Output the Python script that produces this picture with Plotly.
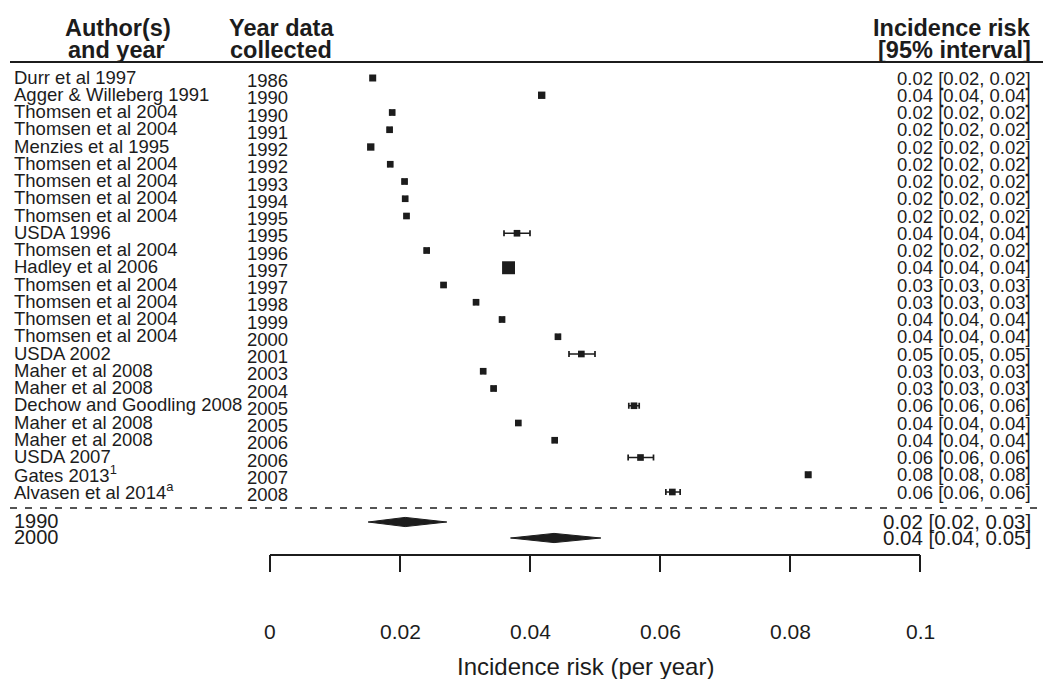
import plotly.graph_objects as go

# ---- study data -------------------------------------------------------------
authors = [
    "Durr et al 1997", "Agger & Willeberg 1991", "Thomsen et al 2004",
    "Thomsen et al 2004", "Menzies et al 1995", "Thomsen et al 2004",
    "Thomsen et al 2004", "Thomsen et al 2004", "Thomsen et al 2004",
    "USDA 1996", "Thomsen et al 2004", "Hadley et al 2006",
    "Thomsen et al 2004", "Thomsen et al 2004", "Thomsen et al 2004",
    "Thomsen et al 2004", "USDA 2002", "Maher et al 2008", "Maher et al 2008",
    "Dechow and Goodling 2008", "Maher et al 2008", "Maher et al 2008",
    "USDA 2007", "Gates 2013<sup>1</sup>", "Alvasen et al 2014<sup>a</sup>",
]
years = [
    "1986", "1990", "1990", "1991", "1992", "1992", "1993", "1994", "1995",
    "1995", "1996", "1997", "1997", "1998", "1999", "2000", "2001", "2003",
    "2004", "2005", "2005", "2006", "2006", "2007", "2008",
]
est = [
    0.0158, 0.0418, 0.0188, 0.0184, 0.0155, 0.0185, 0.0207, 0.0208, 0.0210,
    0.0380, 0.0241, 0.0367, 0.0267, 0.0317, 0.0357, 0.0443, 0.0479, 0.0328,
    0.0344, 0.0560, 0.0382, 0.0438, 0.0570, 0.0828, 0.0619,
]
lower = [
    0.0155, 0.0415, 0.0185, 0.0181, 0.0152, 0.0182, 0.0204, 0.0205, 0.0207,
    0.0360, 0.0238, 0.0365, 0.0264, 0.0314, 0.0354, 0.0440, 0.0460, 0.0325,
    0.0341, 0.0552, 0.0379, 0.0435, 0.0551, 0.0825, 0.0609,
]
upper = [
    0.0161, 0.0421, 0.0191, 0.0187, 0.0158, 0.0188, 0.0210, 0.0211, 0.0213,
    0.0400, 0.0244, 0.0369, 0.0270, 0.0320, 0.0360, 0.0446, 0.0500, 0.0331,
    0.0347, 0.0568, 0.0385, 0.0441, 0.0590, 0.0831, 0.0631,
]
# relative study weight (drives the size of each square)
weight = [
    1.0, 1.05, 0.95, 0.95, 1.05, 0.95, 0.95, 0.95, 0.95,
    0.95, 0.95, 1.85, 0.95, 0.95, 0.95, 0.95, 0.95, 0.95,
    0.95, 0.95, 0.95, 0.95, 0.95, 1.0, 0.95,
]

summary_labels = ["1990", "2000"]
summary_est = [0.0208, 0.0437]
summary_lower = [0.0151, 0.0370]
summary_upper = [0.0272, 0.0509]

tick_values = [0, 0.02, 0.04, 0.06, 0.08, 0.1]
tick_labels = ["0", "0.02", "0.04", "0.06", "0.08", "0.1"]

# ---- page geometry ----------------------------------------------------------
W, H = 1043, 679
PX0, PX_PER_UNIT = 270, 6500.0       # x = 0 sits at 270 px, 0.1 at 920 px
ROW0_PX, ROW_PX = 78, 17.25          # first study row and row pitch


def xd(px):
    return (px - PX0) / PX_PER_UNIT


def yd(px):
    return 1 + (px - ROW0_PX) / ROW_PX


INK = "#1c1c1c"
FONT = "Liberation Sans, Arial, sans-serif"
BODY = 18.5
HEAD = 23.5
POOLED = 20

rows = list(range(1, len(est) + 1))
dash_row = yd(508)
summary_rows = [yd(522), yd(538)]
axis_row = yd(555)
tick_end_row = yd(572)
ticklab_row = yd(631)
title_row = yd(666)


def fmt(v):
    return f"{v:.2f}"


fig = go.Figure()

# header rule and dashed separator
fig.add_trace(go.Scatter(
    x=[xd(10), xd(W)], y=[yd(62), yd(62)], mode="lines",
    line=dict(color=INK, width=2), hoverinfo="skip", showlegend=False))
fig.add_trace(go.Scatter(
    x=[xd(10), xd(W)], y=[dash_row, dash_row], mode="lines",
    line=dict(color=INK, width=1.6, dash="7px,8px"),
    hoverinfo="skip", showlegend=False))

# study estimates with confidence intervals
fig.add_trace(go.Scatter(
    x=est, y=rows, mode="markers",
    marker=dict(symbol="square", size=[7 * w for w in weight],
                color=INK, opacity=1, line=dict(width=0)),
    error_x=dict(type="data", symmetric=False,
                 array=[u - e for u, e in zip(upper, est)],
                 arrayminus=[e - l for e, l in zip(est, lower)],
                 thickness=1.7, width=3, color=INK),
    hoverinfo="skip", showlegend=False))

# pooled diamonds
half_h = 4.6 / ROW_PX
for r, e, lo, hi in zip(summary_rows, summary_est, summary_lower, summary_upper):
    fig.add_trace(go.Scatter(
        x=[lo, e, hi, e, lo], y=[r, r - half_h, r, r + half_h, r],
        mode="lines", fill="toself", fillcolor=INK,
        line=dict(color=INK, width=1), hoverinfo="skip", showlegend=False))

# x axis drawn as a bracket with downward ticks
ax_x, ax_y = [tick_values[0], tick_values[-1], None], [axis_row, axis_row, None]
for t in tick_values:
    ax_x += [t, t, None]
    ax_y += [axis_row, tick_end_row, None]
fig.add_trace(go.Scatter(
    x=ax_x, y=ax_y, mode="lines", line=dict(color=INK, width=2),
    hoverinfo="skip", showlegend=False))

ann = []


def text(x, y, s, size, anchor, bold=False):
    ann.append(dict(
        x=x, y=y, xref="x", yref="y", text=f"<b>{s}</b>" if bold else s,
        showarrow=False, xanchor=anchor, yanchor="middle",
        font=dict(family=FONT, size=size, color=INK)))


# column headers
text(xd(118), yd(28), "Author(s)", HEAD, "center", True)
text(xd(116), yd(50), "and year", HEAD, "center", True)
text(xd(281), yd(28), "Year data", HEAD, "center", True)
text(xd(281), yd(50), "collected", HEAD, "center", True)
text(xd(1033), yd(28), "Incidence risk", HEAD, "right", True)
text(xd(1033), yd(50), "[95% interval]", HEAD, "right", True)

# study rows
for r, a, yr, e, lo, hi in zip(rows, authors, years, est, lower, upper):
    text(xd(12), r - 0.05, a, BODY, "left")
    text(xd(267), r + 0.15, yr, BODY, "center")
    text(xd(1033), r, f"{fmt(e)} [{fmt(lo)}, {fmt(hi)}]", BODY, "right")

# pooled rows
for r, lab, e, lo, hi in zip(summary_rows, summary_labels, summary_est,
                             summary_lower, summary_upper):
    text(xd(12), r - 0.05, lab, POOLED, "left")
    text(xd(1033), r - 0.05, f"{fmt(e)} [{fmt(lo)}, {fmt(hi)}]", 20.5, "right")

# tick labels and axis title
for t, lab in zip(tick_values, tick_labels):
    text(t, ticklab_row, lab, 21, "center")
text(xd(585), title_row, "Incidence risk (per year)", 24, "center")

fig.update_layout(
    width=W, height=H, margin=dict(l=0, r=0, t=0, b=0),
    paper_bgcolor="white", plot_bgcolor="white",
    annotations=ann, showlegend=False,
    xaxis=dict(range=[xd(0), xd(W)], visible=False, fixedrange=True),
    yaxis=dict(range=[yd(H), yd(0)], visible=False, fixedrange=True),
)

fig.write_html("out.html")
